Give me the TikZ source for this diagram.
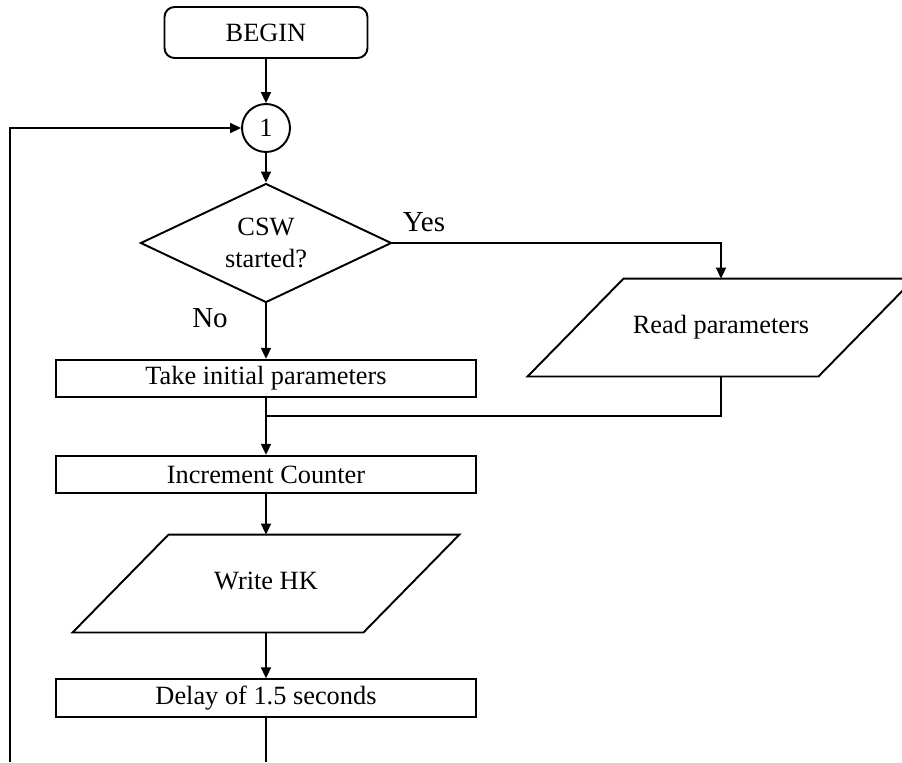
\documentclass[tikz,border=0pt]{standalone}
\usepackage{fontspec}
\setmainfont{Liberation Serif}
\usetikzlibrary{shapes.geometric,arrows.meta}

\begin{document}
\begin{tikzpicture}[x=0.02cm, y=-0.02cm, line width=1.1pt, font=\fontsize{15}{18}\selectfont]
    \tikzset{box node/.style={rectangle,draw,minimum width=8.42cm,minimum height=0.75cm,inner sep=0pt}}
    \tikzset{io node/.style={rectangle,minimum width=7.7cm,minimum height=1.92cm,inner sep=0pt}}
    \tikzset{arrow/.style={-{Triangle[length=0.22cm,width=0.2cm]}}}
    \tikzset{branch label/.style={font=\fontsize{16.5}{19}\selectfont}}
    \newcommand{\ioframe}[1]{\draw ([xshift=1.92cm]#1.north west) -- (#1.north east)
        -- ([xshift=-1.92cm]#1.south east) -- (#1.south west) -- cycle;}

    % Page frame (picture is cut at the bottom and right)
    \clip (0,0) rectangle (902,762);

    % Main column of nodes
    \node[rectangle, draw, rounded corners=0.2cm, minimum width=4.06cm, minimum height=1.02cm] (begin) at (266, 32.5) {BEGIN};
    \node[circle, draw, minimum size=0.96cm, inner sep=0pt] (conn) at (266, 128) {1};
    \node[diamond, draw, aspect=2.1, minimum width=5.02cm, minimum height=2.38cm, inner sep=0pt, align=center,
        font=\fontsize{15}{18.7}\selectfont] (csw) at (266, 243) {CSW\\started?};
    \node[box node] (take) at (266, 378.5) {Take initial parameters};
    \node[box node] (incr) at (266, 474.5) {Increment Counter};
    \node[io node] (write) at (266, 583.5) {\raisebox{0.12cm}{Write HK}};
    \ioframe{write}
    \node[box node] (delay) at (266, 698) {Delay of 1.5 seconds};

    % Side branch
    \node[io node] (readpar) at (721, 327.5) {Read parameters};
    \ioframe{readpar}

    % Free ends and junction
    \coordinate (join) at (266, 416);
    \coordinate (loopend) at (10, 762);
    \coordinate (delayend) at (266, 762);

    % Main flow edges
    \draw[arrow] (begin) -- (conn);
    \draw[arrow] (conn) -- (csw);
    \draw[arrow] (csw) -- (take);
    \draw[arrow] (take) -- (incr);
    \draw[arrow] (incr) -- (write);
    \draw[arrow] (write) -- (delay);
    \draw (delay) -- (delayend);

    % Yes branch and merge
    \draw[arrow] (csw.east) -| (readpar.north);
    \draw (readpar.south) |- (join);

    % Loop back to connector
    \draw[arrow] (loopend) |- (conn.west);

    % Branch labels
    \node[branch label] (yes) at (424, 222) {Yes};
    \node[branch label] (no) at (210, 318) {No};

\end{tikzpicture}
\end{document}
